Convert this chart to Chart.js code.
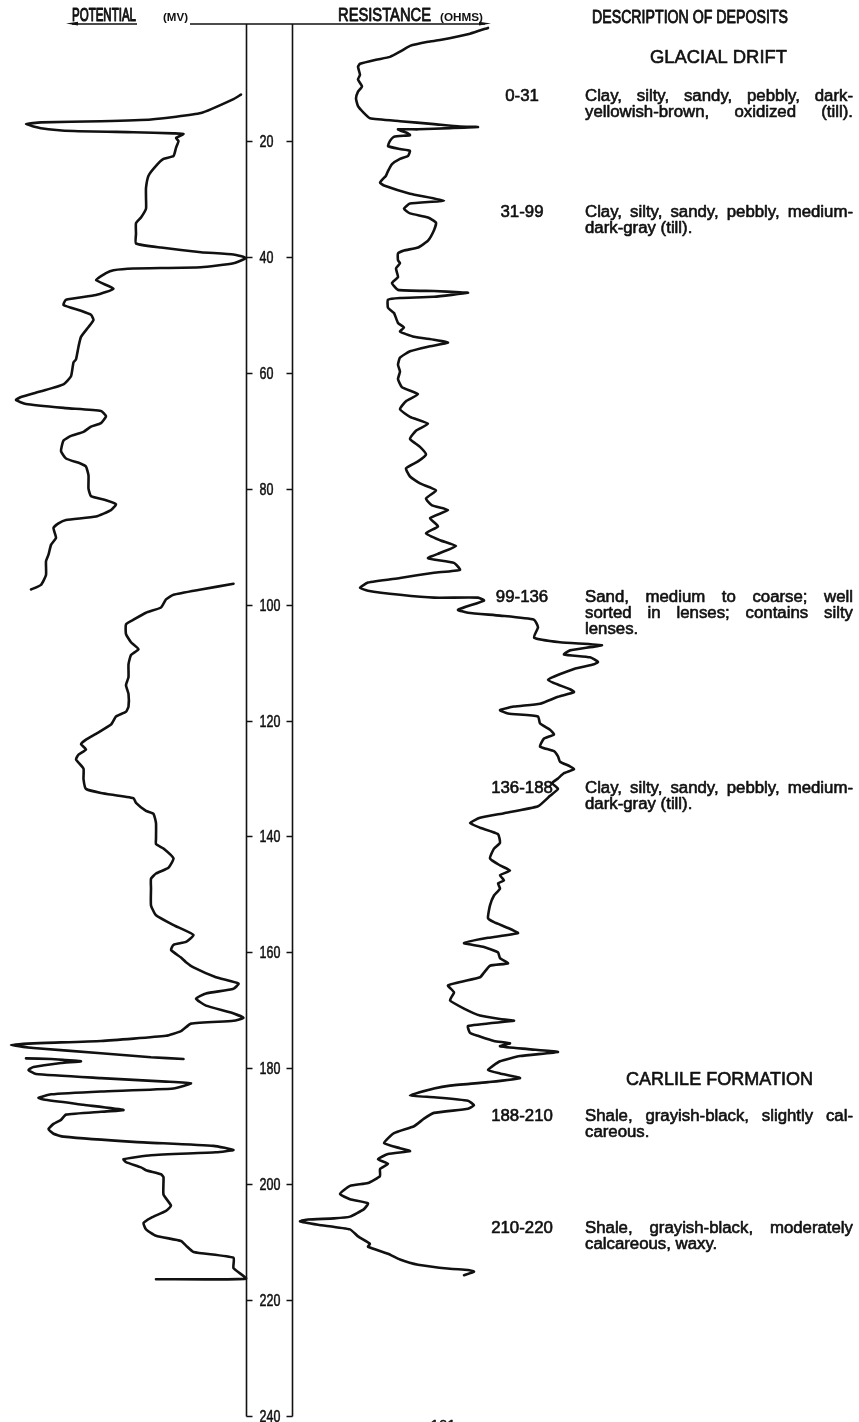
<!DOCTYPE html>
<html>
<head>
<meta charset="utf-8">
<title>Electric log</title>
<script src="https://cdn.jsdelivr.net/npm/chart.js@4.4.1/dist/chart.umd.min.js"></script>
<style>
  html, body { margin: 0; padding: 0; background: #fff; }
  #wrap { width: 859px; height: 1422px; position: relative; }
  canvas { display: block; }
</style>
</head>
<body>
<div id="wrap"><canvas id="log" width="859" height="1422" style="width:859px;height:1422px"></canvas></div>
<script>
// ---- depth scale (feet) ----
const depthTicks = [20, 40, 60, 80, 100, 120, 140, 160, 180, 200, 220, 240];

// ---- spontaneous potential, three pen runs (depth ft, deflection mV) ----
const spRun1Depth = [12.0,12.8,15.2,16.3,16.6,16.8,17.1,17.8,18.3,18.5,18.7,18.8,19.5,20.0,21.2,22.6,23.1,24.3,26.0,28.1,29.8,31.7,33.2,34.2,36.0,37.7,38.4,39.2,39.6,40.2,41.1,41.8,42.0,42.3,42.8,44.0,45.5,46.6,47.4,48.3,49.3,50.0,50.9,52.1,53.8,55.5,57.7,58.2,60.6,62.0,63.2,64.2,64.7,65.4,66.1,66.6,67.5,68.7,69.3,70.2,70.9,71.7,73.5,74.8,75.7,76.2,77.7,80.0,81.3,82.0,82.7,83.7,84.8,85.4,86.0,86.8,88.5,89.7,91.4,92.5,94.9,96.6,97.4];
const spRun1Mv = [-2,-5,-18,-38,-58,-82,-88,-82,-69,-45,-29,-25,-28,-27,-28,-29,-33,-36,-39,-40,-40,-40,-42,-44,-44,-44,-34,-18,-5,0,-5,-18,-45,-53,-56,-60,-53,-60,-72,-73,-66,-62,-61,-63,-66,-67,-68,-69,-70,-73,-82,-90,-92,-88,-72,-58,-56,-58,-62,-65,-70,-73,-74,-72,-66,-64,-63,-63,-62,-56,-52,-54,-60,-72,-75,-77,-76,-78,-79,-80,-80,-82,-86];

const spRun2Depth = [96.4,97.4,98.3,99.1,100.5,101.4,102.6,103.4,105.1,106.5,107.7,108.7,110.3,112.5,113.9,115.4,117.6,118.5,119.3,120.7,122.3,123.3,124.1,125.0,125.9,126.7,128.3,130.1,131.8,132.5,133.4,134.2,135.6,136.1,137.7,140.4,141.3,142.1,143.8,145.4,146.4,147.3,149.0,151.9,153.6,155.3,157.0,158.2,158.7,159.6,160.9,161.7,162.6,164.3,165.4,166.3,167.1,168.0,169.2,170.4,171.3,171.8,172.3,173.6,174.4,175.3,175.7,176.0,176.5,177.4,178.1,178.4];
const spRun2Mv = [-5,-18,-29,-32,-34,-40,-45,-48,-48,-46,-43,-46,-47,-47,-48,-47,-47,-48,-52,-54,-60,-64,-66,-64,-67,-68,-65,-65,-64,-58,-45,-44,-40,-37,-36,-36,-36,-33,-29,-31,-36,-38,-38,-38,-36,-29,-21,-24,-29,-30,-26,-24,-21,-12,-3,-5,-16,-20,-16,-6,-1,-5,-22,-26,-32,-58,-85,-94,-85,-58,-38,-25];

const spRun3Depth = [178.3,178.4,178.6,178.8,179.1,179.8,180.3,181.0,181.7,182.3,182.6,183.5,184.0,184.5,185.1,185.4,186.3,187.2,187.5,188.0,188.9,189.6,190.5,191.3,191.8,192.7,193.4,194.1,194.5,195.0,195.7,196.2,197.1,197.6,198.3,198.8,201.8,203.7,204.6,205.8,206.7,207.8,208.9,209.8,210.6,211.7,212.7,214.5,216.3,216.4];
const spRun3Mv = [-88,-78,-72,-66,-74,-85,-87,-84,-58,-32,-22,-29,-58,-78,-83,-81,-65,-49,-58,-72,-74,-77,-79,-77,-73,-45,-13,-5,-12,-38,-49,-48,-42,-40,-34,-33,-33,-30,-32,-38,-41,-40,-36,-26,-24,-21,-5,-5,0,-36];

// ---- resistance (depth ft, ohms, relative) ----
const resDepth = [0.5,1.5,2.6,2.9,3.6,4.6,5.5,6.0,6.7,7.2,8.6,9.4,10.6,11.5,12.7,14.0,15.2,16.1,16.6,17.1,17.5,17.6,17.8,18.0,18.0,18.7,19.0,19.3,20.0,20.9,21.4,21.7,22.6,23.1,24.0,25.2,26.0,27.2,27.7,29.1,30.3,30.8,31.7,32.5,33.2,34.1,35.4,37.2,38.4,38.9,39.4,40.6,41.1,42.0,43.5,44.5,45.7,45.9,46.1,46.2,46.9,47.1,47.4,48.8,49.7,51.4,52.2,52.9,53.8,54.3,54.8,55.5,56.3,57.4,58.6,59.8,61.1,62.5,63.7,64.9,66.3,67.6,68.8,70.0,71.4,72.8,74.1,75.3,76.5,77.9,79.1,80.3,81.7,82.9,83.7,85.1,86.5,87.7,88.9,89.9,91.1,92.0,92.8,94.0,94.5,95.4,96.2,97.1,97.6,98.3,98.8,98.8,99.3,100.9,101.4,101.9,102.6,103.9,105.7,106.5,107.0,107.9,108.6,109.1,109.9,110.3,111.1,113.0,114.6,115.1,115.9,117.1,117.6,118.2,118.8,119.3,120.5,121.6,122.4,123.1,124.5,125.3,126.2,127.1,127.9,128.4,129.1,130.0,130.8,131.8,133.0,134.8,136.0,136.8,137.7,138.5,139.6,141.1,142.1,143.8,145.0,145.9,146.7,147.6,148.1,149.0,150.2,151.9,154.1,154.8,155.8,156.7,157.5,158.4,159.1,160.0,161.0,161.9,162.3,163.5,164.3,165.7,166.9,168.3,169.7,170.9,171.5,171.8,172.7,173.9,174.4,175.3,175.7,176.2,176.7,177.2,177.9,178.8,180.3,180.9,181.7,182.4,183.0,183.5,184.7,185.0,185.6,186.4,187.0,187.7,188.7,190.0,191.2,192.9,193.8,194.3,194.8,195.7,196.5,197.4,198.6,199.8,200.3,201.7,202.6,203.3,204.3,205.6,205.9,206.1,206.4,207.0,207.8,209.0,210.3,210.8,212.0,213.0,213.9,214.6,214.8,215.1,215.7];
const resOhms = [98,89,74,68,59,54,49,42,34,33,34,33,35,33,32,33,36,39,54,71,84,93,79,63,53,58,59,51,49,48,54,59,58,54,50,48,47,44,46,59,76,59,56,59,68,72,71,68,63,56,53,53,54,52,53,50,53,71,84,88,71,54,48,48,51,53,56,54,61,71,78,68,59,54,53,54,53,55,63,57,54,59,68,62,59,64,67,63,57,59,64,72,67,70,78,69,73,67,74,82,74,68,81,84,71,54,38,34,38,54,71,93,96,83,88,104,121,123,121,134,155,139,136,149,153,151,141,128,139,141,133,124,111,104,108,123,124,129,131,126,124,131,133,134,139,141,136,133,130,133,129,123,106,94,89,94,103,104,101,99,104,109,104,106,103,104,101,99,98,101,108,113,98,86,96,103,104,108,99,96,94,78,81,79,86,94,104,111,88,89,93,101,109,104,118,133,114,104,98,104,114,98,79,71,59,71,88,91,88,71,66,61,51,46,54,59,48,43,48,44,44,38,29,24,29,38,36,29,21,8,4,13,29,33,39,38,48,54,63,79,88,91,86];

// ---- description of deposits ----
const unitTitles = ['GLACIAL DRIFT', 'CARLILE FORMATION'];
const intervalLabels = ['0-31', '31-99', '99-136', '136-188', '188-210', '210-220'];
const intervalText = [
  ['Clay, silty, sandy, pebbly, dark-', 'yellowish-brown, oxidized (till).'],
  ['Clay, silty, sandy, pebbly, medium-', 'dark-gray (till).'],
  ['Sand, medium to coarse; well', 'sorted in lenses; contains silty', 'lenses.'],
  ['Clay, silty, sandy, pebbly, medium-', 'dark-gray (till).'],
  ['Shale, grayish-black, slightly cal-', 'careous.'],
  ['Shale, grayish-black, moderately', 'calcareous, waxy.']
];
const justifyLastLine = [true, false, false, false, false, false];

// ---- page layout (pixels) ----
const layout = {
  headBase: 21, headRule: 24,
  potential: { left: 72, right: 136 }, mv: { left: 163, right: 188 },
  resistance: { left: 338, right: 431 }, ohms: { left: 440, right: 483 },
  spArrow: { from: 137, to: 66 }, resArrow: { from: 190, to: 491 },
  description: { left: 592, right: 788 },
  glacial: { left: 650, right: 787, base: 63 },
  carlile: { left: 626, right: 813, base: 1085 },
  rangeCenter: 522, textLeft: 585, textRight: 853,
  blockBase: [101, 217, 602, 793, 1121, 1233], lineStep: 16,
  pageNo: { text: '161', x: 443, base: 1430 }
};

const ink = '#111111';
const SANS = '"Liberation Sans", Arial, Helvetica, sans-serif';

function zip(d, v) {
  const n = Math.min(d.length, v.length);
  const out = [];
  for (let i = 0; i < n; i++) out.push({ x: v[i], y: d[i] });
  return out;
}

function setFont(ctx, size, weight) {
  ctx.font = `${weight || 'normal'} ${size}px ${SANS}`;
}

// fill plus a hairline stroke gives the medium weight of the printed type
function ink_text(ctx, s, heavy) {
  ctx.fillStyle = ink;
  ctx.fillText(s, 0, 0);
  if (heavy) {
    ctx.strokeStyle = ink;
    ctx.lineWidth = heavy;
    ctx.lineJoin = 'round';
    ctx.strokeText(s, 0, 0);
  }
}

// text squeezed/stretched horizontally to sit between two x positions
function fitText(ctx, s, left, right, base, size, weight, heavy) {
  ctx.save();
  setFont(ctx, size, weight);
  const w = ctx.measureText(s).width;
  const k = (right - left) / w;
  ctx.translate(left, base);
  ctx.scale(k, 1);
  ctx.textAlign = 'left';
  ctx.textBaseline = 'alphabetic';
  ink_text(ctx, s, heavy ? heavy / k : 0);
  ctx.restore();
}

function plainText(ctx, s, x, base, size, align, stretch, heavy) {
  ctx.save();
  setFont(ctx, size);
  const k = stretch || 1;
  const w = ctx.measureText(s).width * k;
  let left = x;
  if (align === 'center') left = x - w / 2;
  else if (align === 'right') left = x - w;
  ctx.translate(left, base);
  ctx.scale(k, 1);
  ctx.textAlign = 'left';
  ctx.textBaseline = 'alphabetic';
  ink_text(ctx, s, heavy || 0);
  ctx.restore();
}

function justifiedText(ctx, s, left, right, base, size, stretch, heavy) {
  ctx.save();
  setFont(ctx, size);
  const words = s.split(' ');
  const widths = words.map(w => ctx.measureText(w).width * stretch);
  const total = widths.reduce((a, b) => a + b, 0);
  const gap = words.length > 1 ? (right - left - total) / (words.length - 1) : 0;
  ctx.textAlign = 'left';
  ctx.textBaseline = 'alphabetic';
  let x = left;
  words.forEach((w, i) => {
    ctx.save();
    ctx.translate(x, base);
    ctx.scale(stretch, 1);
    ink_text(ctx, w, heavy || 0);
    ctx.restore();
    x += widths[i] + gap;
  });
  ctx.restore();
}

function arrowRule(ctx, from, to, y) {
  const dir = Math.sign(to - from);
  ctx.save();
  ctx.strokeStyle = ink;
  ctx.fillStyle = ink;
  ctx.lineWidth = 1.5;
  ctx.beginPath();
  ctx.moveTo(from, y);
  ctx.lineTo(to - dir * 6, y);
  ctx.stroke();
  ctx.beginPath();
  ctx.moveTo(to, y - 0.5);
  ctx.lineTo(to - dir * 12, y - 2.2);
  ctx.lineTo(to - dir * 12, y + 1.6);
  ctx.closePath();
  ctx.fill();
  ctx.restore();
}

// depth column between the two curve tracks
const depthColumn = {
  id: 'depthColumn',
  afterDatasetsDraw(chart) {
    const { ctx } = chart;
    const y = chart.scales.y;
    const xl = Math.round(chart.scales.xSP.getPixelForValue(0)) + 0.5;
    const xr = Math.round(chart.scales.xRes.getPixelForValue(0)) + 0.5;
    const top = y.getPixelForValue(0) - 1;
    const bottom = Math.round(y.getPixelForValue(depthTicks[depthTicks.length - 1])) + 0.5;
    ctx.save();
    ctx.strokeStyle = ink;
    ctx.lineWidth = 1.6;
    ctx.beginPath();
    ctx.moveTo(xl, top); ctx.lineTo(xl, bottom);
    ctx.moveTo(xr, top); ctx.lineTo(xr, bottom);
    depthTicks.forEach(t => {
      const py = Math.round(y.getPixelForValue(t)) + 0.5;
      ctx.moveTo(xl, py); ctx.lineTo(xl + 6, py);
      ctx.moveTo(xr - 6, py); ctx.lineTo(xr, py);
    });
    ctx.stroke();
    ctx.restore();
    depthTicks.forEach(t => {
      const py = y.getPixelForValue(t);
      plainText(ctx, String(t), xl + 13, py + 6, 16, 'left', 0.78, 0.5);
    });
  }
};

// headings and the description of deposits
const annotations = {
  id: 'annotations',
  afterDraw(chart) {
    const { ctx } = chart;
    const L = layout;
    fitText(ctx, 'POTENTIAL', L.potential.left, L.potential.right, L.headBase, 18, 'normal', 0.7);
    fitText(ctx, '(MV)', L.mv.left, L.mv.right, L.headBase, 11, 'bold');
    fitText(ctx, 'RESISTANCE', L.resistance.left, L.resistance.right, L.headBase, 18, 'normal', 0.7);
    fitText(ctx, '(OHMS)', L.ohms.left, L.ohms.right, L.headBase, 11, 'bold');
    arrowRule(ctx, L.spArrow.from, L.spArrow.to, L.headRule);
    arrowRule(ctx, L.resArrow.from, L.resArrow.to, L.headRule);
    fitText(ctx, 'DESCRIPTION OF DEPOSITS', L.description.left, L.description.right, L.headBase + 2, 18, 'normal', 0.7);
    fitText(ctx, unitTitles[0], L.glacial.left, L.glacial.right, L.glacial.base, 18, 'normal', 0.6);
    fitText(ctx, unitTitles[1], L.carlile.left, L.carlile.right, L.carlile.base, 18, 'normal', 0.6);

    intervalLabels.forEach((label, i) => {
      const base = L.blockBase[i];
      plainText(ctx, label, L.rangeCenter, base, 16, 'center', 1.05, 0.6);
      const lines = intervalText[i];
      lines.forEach((line, j) => {
        const b = base + j * L.lineStep;
        const last = j === lines.length - 1;
        if (!last || justifyLastLine[i]) {
          justifiedText(ctx, line, L.textLeft, L.textRight, b, 16, 1.05, 0.6);
        } else {
          plainText(ctx, line, L.textLeft, b, 16, 'left', 1.05, 0.6);
        }
      });
    });
    plainText(ctx, L.pageNo.text, L.pageNo.x, L.pageNo.base, 15, 'center', 1, 0.5);
  }
};

const curveStyle = {
  showLine: true,
  borderColor: ink,
  borderWidth: 2.6,
  pointRadius: 0,
  tension: 0.15,
  borderJoinStyle: 'round',
  borderCapStyle: 'round',
  fill: false
};

new Chart(document.getElementById('log'), {
  type: 'scatter',
  data: {
    datasets: [
      { label: 'Potential', data: zip(spRun1Depth, spRun1Mv), xAxisID: 'xSP', yAxisID: 'y', ...curveStyle },
      { label: 'Potential', data: zip(spRun2Depth, spRun2Mv), xAxisID: 'xSP', yAxisID: 'y', ...curveStyle },
      { label: 'Potential', data: zip(spRun3Depth, spRun3Mv), xAxisID: 'xSP', yAxisID: 'y', ...curveStyle },
      { label: 'Resistance', data: zip(resDepth, resOhms), xAxisID: 'xRes', yAxisID: 'y', ...curveStyle }
    ]
  },
  options: {
    responsive: false,
    animation: false,
    devicePixelRatio: 1,
    layout: { padding: { top: 25, bottom: 6, left: 0, right: 0 } },
    plugins: { legend: { display: false }, tooltip: { enabled: false } },
    scales: {
      y: { type: 'linear', reverse: true, min: 0, max: 240, display: false },
      xSP: { type: 'linear', axis: 'x', min: -98.4, max: 245.2, display: false },
      xRes: { type: 'linear', axis: 'x', min: -146, max: 283.5, display: false }
    }
  },
  plugins: [depthColumn, annotations]
});
</script>
</body>
</html>
